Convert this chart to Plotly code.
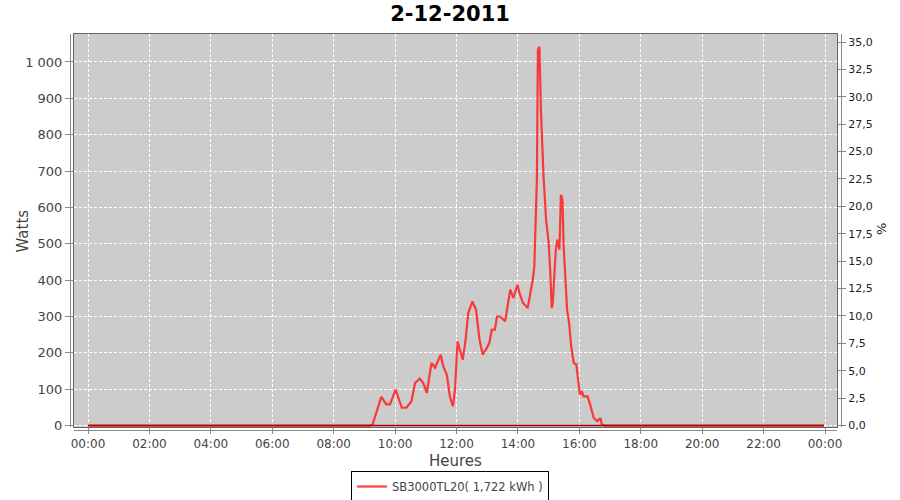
import plotly.graph_objects as go

# ---- data ----
times = ["00:00", "09:10", "09:16", "09:33", "09:43", "09:50", "10:01", "10:13", "10:22", "10:32",
         "10:39", "10:48", "10:55", "11:02", "11:11", "11:18", "11:29", "11:34", "11:41", "11:47",
         "11:53", "11:57", "12:02", "12:12", "12:17", "12:23", "12:31", "12:38", "12:45", "12:51",
         "12:59", "13:04", "13:09", "13:15", "13:19", "13:25", "13:35", "13:41", "13:45", "13:51",
         "13:59", "14:04", "14:10", "14:19", "14:24", "14:29", "14:32", "14:34", "14:37", "14:39",
         "14:42", "14:45", "14:48", "14:50", "14:55", "15:00", "15:03", "15:06", "15:08", "15:11",
         "15:14", "15:17", "15:21", "15:24", "15:27", "15:29", "15:33", "15:36", "15:40", "15:44",
         "15:49", "15:54", "16:01", "16:05", "16:08", "16:16", "16:22", "16:28", "16:35", "16:41",
         "16:44", "16:50", "23:58"]
watts = [0, 0, 3, 79, 58, 58, 99, 49, 49, 67,
         117, 129, 117, 90, 172, 159, 195, 163, 140, 80,
         53, 99, 232, 181, 227, 310, 341, 319, 236, 195,
         213, 227, 264, 264, 300, 300, 287, 346, 374, 351,
         387, 360, 337, 323, 360, 401, 438, 538, 676, 1033,
         1042, 864, 740, 685, 566, 502, 429, 323, 337, 420,
         484, 511, 484, 635, 621, 502, 374, 319, 282, 218,
         172, 168, 85, 94, 80, 80, 53, 21, 12, 21,
         3, 0, 0]
percent = [0 for _ in times]
day = "2011-12-02"
x_dates = [f"{day} {t}" for t in times]

left_ticks = list(range(0, 1001, 100))
left_text = ["0", "100", "200", "300", "400", "500", "600", "700", "800", "900", "1 000"]
right_ticks = [i * 2.5 for i in range(15)]
right_text = [f"{v:.1f}".replace(".", ",") for v in right_ticks]
x_ticks = [f"{day} {h:02d}:00" for h in range(0, 24, 2)] + ["2011-12-03 00:00"]
x_text = [f"{h:02d}:00" for h in range(0, 24, 2)] + ["00:00"]

fig = go.Figure()
fig.add_trace(go.Scatter(x=x_dates, y=percent, yaxis="y2", mode="lines",
                         line=dict(color="#b00000", width=1.5), showlegend=False, hoverinfo="skip"))
fig.add_trace(go.Scatter(x=x_dates, y=watts, mode="lines", name="SB3000TL20( 1,722 kWh )",
                         line=dict(color="rgba(255,40,40,0.9)", width=2.2)))

font = "DejaVu Sans, Verdana, sans-serif"
grid_dash = "3px,2px"
fig.update_layout(
    width=900, height=500,
    margin=dict(l=74, r=63, t=34, b=73, autoexpand=False),
    paper_bgcolor="white", plot_bgcolor="#cccccc",
    font=dict(family=font, size=12, color="#444444"),
    title=dict(text="<b>2-12-2011</b>", x=0.5, xref="container", xanchor="center",
               y=1 - 14 / 500, yref="container", yanchor="middle",
               font=dict(family=font, size=21, color="black")),
    xaxis=dict(type="date", range=["2011-12-01 23:32:36", "2011-12-03 00:23:24"],
               tickvals=x_ticks, ticktext=x_text, ticks="outside", ticklen=6, tickcolor="#888",
               showgrid=True, gridcolor="white", griddash=grid_dash, gridwidth=1,
               showline=True, linecolor="#666", linewidth=1, mirror=True, automargin=False,
               zeroline=False, tickfont=dict(size=12, color="#444")),
    yaxis=dict(range=[-4, 1077], tickvals=left_ticks, ticktext=left_text,
               ticks="outside", ticklen=8, tickcolor="#888", automargin=False,
               showgrid=True, gridcolor="white", griddash=grid_dash, gridwidth=1,
               showline=True, linecolor="#666", linewidth=1, mirror=True,
               zeroline=False, tickfont=dict(size=13, color="#444")),
    yaxis2=dict(overlaying="y", side="right", range=[-0.14, 35.73], automargin=False,
                tickvals=right_ticks, ticktext=right_text, ticks="outside", ticklen=8,
                tickcolor="#888", showgrid=False, zeroline=False,
                tickfont=dict(size=11, color="#222")),
    legend=dict(orientation="h", x=0.5, xref="container", xanchor="center",
                y=1 - 471 / 500, yref="container", yanchor="top",
                bordercolor="black", borderwidth=1, bgcolor="white", itemwidth=30,
                font=dict(size=11.5, color="#444")),
    showlegend=True,
)

# offset axis lines
shapes = [
    dict(type="line", xref="paper", yref="paper", x0=-3.5 / 763, x1=-3.5 / 763, y0=0, y1=1,
         line=dict(color="#888", width=1)),
    dict(type="line", xref="paper", yref="paper", x0=0, x1=1, y0=-3.5 / 393, y1=-3.5 / 393,
         line=dict(color="#888", width=1)),
    dict(type="line", xref="paper", yref="paper", x0=1 + 4.5 / 763, x1=1 + 4.5 / 763, y0=0, y1=1,
         line=dict(color="#888", width=1)),
]
fig.update_layout(shapes=shapes)

fig.add_annotation(text="Watts", xref="paper", yref="paper", x=-52 / 763, y=0.5,
                   xanchor="center", yanchor="middle", textangle=-90, showarrow=False,
                   font=dict(family=font, size=15, color="#444"))
fig.add_annotation(text="Heures", xref="paper", yref="paper", x=(455 - 74) / 763, y=-34 / 393,
                   xanchor="center", yanchor="middle", showarrow=False,
                   font=dict(family=font, size=15, color="#444"))
fig.add_annotation(text="%", xref="paper", yref="paper", x=1 + 44 / 763, y=(427 - 229) / 393,
                   xanchor="center", yanchor="middle", textangle=-90, showarrow=False,
                   font=dict(family=font, size=13, color="#222"))

fig.write_html("out.html", config={"displayModeBar": False},
               post_script="document.body.style.margin='0';")
